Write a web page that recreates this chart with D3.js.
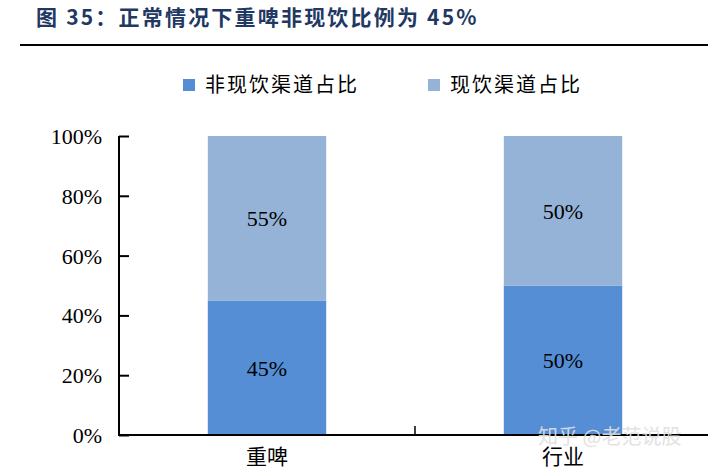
<!DOCTYPE html>
<html><head><meta charset="utf-8">
<script src="https://cdn.jsdelivr.net/npm/d3@7/dist/d3.min.js"></script>
<style>body{margin:0;background:#fff;}svg{display:block;}</style>
</head><body>
<svg id="c" width="708" height="469"></svg>
<script>
const categories = ["重啤", "行业"];
const seriesNames = ["非现饮渠道占比", "现饮渠道占比"];
const nonOnPremise = [45, 50];
const onPremise = [55, 50];
const yTicks = [0, 20, 40, 60, 80, 100];
const colors = ["#558ed5", "#95b3d7"];

const svg = d3.select("#c");
const m = {left: 119, top: 136, bottom: 435, right: 711};

svg.append("text").attr("x", 36).attr("y", 25)
  .attr("font-family", "'Noto Sans CJK SC', sans-serif").attr("font-weight", "bold")
  .attr("font-size", 21).attr("letter-spacing", 2.2).attr("fill", "#1f3864")
  .text("图 35：正常情况下重啤非现饮比例为 45%");
svg.append("line").attr("x1", 20).attr("x2", 708).attr("y1", 45).attr("y2", 45)
  .attr("stroke", "#000").attr("stroke-width", 2);

const x = d3.scaleBand().domain(categories).range([m.left, m.right]).padding(0);
const y = d3.scaleLinear().domain([0, 100]).range([m.bottom, m.top]);

const data = categories.map((c, i) => ({cat: c, vals: [nonOnPremise[i], onPremise[i]]}));
const stack = d3.stack().keys([0, 1]).value((d, k) => d.vals[k]);
const layers = stack(data);

const bw = x.bandwidth() * 0.4;
layers.forEach((layer, k) => {
  const g = svg.append("g");
  g.selectAll("rect").data(layer).enter().append("rect")
    .attr("x", d => x(d.data.cat) + (x.bandwidth() - bw) / 2)
    .attr("width", bw)
    .attr("y", d => y(d[1]))
    .attr("height", d => y(d[0]) - y(d[1]))
    .attr("fill", colors[k]);
  g.selectAll("text").data(layer).enter().append("text")
    .attr("x", d => x(d.data.cat) + x.bandwidth() / 2)
    .attr("y", d => (y(d[0]) + y(d[1])) / 2 + 8)
    .attr("text-anchor", "middle")
    .attr("font-family", "'Liberation Serif', 'Times New Roman', serif")
    .attr("font-size", 22).attr("fill", "#000")
    .text(d => d.data.vals[k] + "%");
});

// y axis
const yAxis = d3.axisRight(y).tickValues(yTicks).tickSize(10).tickFormat("");
const ya = svg.append("g").attr("transform", `translate(${m.left},0)`).call(yAxis);
ya.select(".domain").attr("stroke", "#000").attr("stroke-width", 2).attr("d", `M0,${m.top}V${m.bottom}`);
ya.selectAll(".tick line").attr("stroke", "#000").attr("stroke-width", 2);
svg.append("g").selectAll("text").data(yTicks).enter().append("text")
  .attr("x", 102).attr("y", d => y(d) + 8).attr("text-anchor", "end")
  .attr("font-family", "'Liberation Serif', 'Times New Roman', serif")
  .attr("font-size", 22).attr("fill", "#000")
  .text(d => d + "%");

// x axis
svg.append("line").attr("x1", m.left - 1).attr("x2", 708).attr("y1", m.bottom).attr("y2", m.bottom)
  .attr("stroke", "#000").attr("stroke-width", 2);
const midX = x(categories[1]);
svg.append("line").attr("x1", midX).attr("x2", midX).attr("y1", m.bottom).attr("y2", m.bottom - 9)
  .attr("stroke", "#000").attr("stroke-width", 1.5);
svg.append("g").selectAll("text").data(categories).enter().append("text")
  .attr("x", d => x(d) + x.bandwidth() / 2).attr("y", 464).attr("text-anchor", "middle")
  .attr("font-family", "'Noto Sans CJK SC', serif").attr("font-size", 21).attr("fill", "#000")
  .text(d => d);

// legend
const lg = svg.append("g");
const legX = [183, 428];
seriesNames.forEach((n, i) => {
  lg.append("rect").attr("x", legX[i]).attr("y", 79).attr("width", 12).attr("height", 12).attr("fill", colors[i]);
  lg.append("text").attr("x", legX[i] + 22).attr("y", 92)
    .attr("font-family", "'Noto Sans CJK SC', sans-serif").attr("font-size", 20)
    .attr("letter-spacing", 2).attr("fill", "#000").text(n);
});

// watermark
svg.append("text").attr("x", 538).attr("y", 444)
  .attr("font-family", "'Noto Sans CJK SC', sans-serif").attr("font-size", 20)
  .attr("fill", "#e0e0e0").attr("opacity", 0.9).text("知乎 @老范说股");
</script>
</body></html>
